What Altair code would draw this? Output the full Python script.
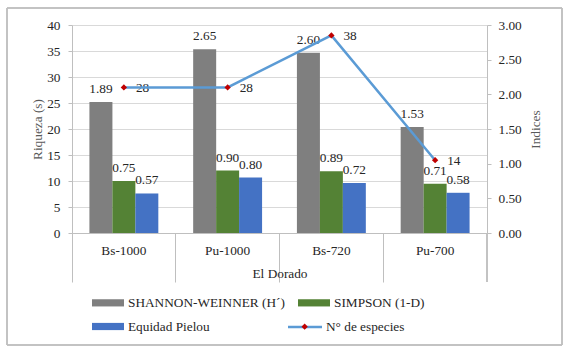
import altair as alt
import pandas as pd

categories = ["Bs-1000", "Pu-1000", "Bs-720", "Pu-700"]
series_names = ["SHANNON-WEINNER (H´)", "SIMPSON (1-D)", "Equidad Pielou"]
shannon = [1.89, 2.65, 2.60, 1.53]
simpson = [0.75, 0.90, 0.89, 0.71]
pielou = [0.57, 0.80, 0.72, 0.58]
line_name = "N° de especies"
marker_key = "N° de especies (marcador)"
especies = [28, 28, 38, 14]
left_ticks = [0, 5, 10, 15, 20, 25, 30, 35, 40]
right_ticks = [0.0, 0.5, 1.0, 1.5, 2.0, 2.5, 3.0]
bar_colors = ["#7F7F7F", "#548235", "#4472C4"]
line_color = "#5B9BD5"
point_color = "#C00000"

W, H = 415, 208
FONT = "Liberation Serif"
FS = 13.3
TXT = "#262626"
AX = "#BFBFBF"

rows = []
for s, vals in zip(series_names, [shannon, simpson, pielou]):
    for c, v in zip(categories, vals):
        rows.append({"cat": c, "serie": s, "val": v})
bars_df = pd.DataFrame(rows)
line_df = pd.DataFrame({
    "cat": categories, "n": especies,
    "serie_l": [line_name] * len(categories),
    "serie_p": [marker_key] * len(categories),
})

x_enc = alt.X(
    "cat:N", sort=categories, title="El Dorado",
    scale=alt.Scale(paddingInner=0, paddingOuter=0),
    axis=alt.Axis(
        bandPosition=0, tickSize=49, tickColor=AX,
        domainColor=AX, labelPadding=-39, labelAngle=0, labelFont=FONT,
        labelFontSize=FS, labelColor=TXT, titleFont=FONT, titleFontSize=FS,
        titleColor=TXT, titleFontWeight="normal", titleY=40,
        titleBaseline="middle", grid=False,
    ),
)

xoff = alt.XOffset("serie:N", sort=series_names,
                   scale=alt.Scale(paddingInner=0, paddingOuter=0.76))

y_right = alt.Y(
    "val:Q", scale=alt.Scale(domain=[0, 3], nice=False, zero=True),
    axis=alt.Axis(
        orient="right", values=right_ticks, format=".2f", grid=False,
        tickSize=4, tickColor=AX, domainColor=AX, labelPadding=7,
        labelFont=FONT, labelFontSize=FS, labelColor=TXT, title="Indices",
        titleFont=FONT, titleFontSize=FS, titleColor="#595959",
        titleFontWeight="normal", titleAngle=270, titleX=48, titleY=H / 2,
        titleBaseline="middle", titleAlign="center",
    ),
)

y_left = alt.Y(
    "n:Q", scale=alt.Scale(domain=[0, 40], nice=False, zero=True),
    axis=alt.Axis(
        orient="left", values=left_ticks, format="d", grid=True,
        gridColor="#D9D9D9", gridWidth=1, tickSize=4, tickColor=AX,
        domainColor=AX, labelPadding=8, labelFont=FONT, labelFontSize=FS,
        labelColor=TXT, title="Riqueza (s)", titleFont=FONT, titleFontSize=FS,
        titleColor="#595959", titleFontWeight="normal", titleAngle=270,
        titleX=-35, titleY=H / 2, titleBaseline="middle", titleAlign="center",
    ),
)

bars = alt.Chart(bars_df).mark_bar(size=23).encode(
    x=x_enc, xOffset=xoff, y=y_right,
    color=alt.Color(
        "serie:N", sort=series_names,
        scale=alt.Scale(domain=series_names, range=bar_colors),
        legend=alt.Legend(
            orient="none", legendX=28, legendY=269.5, columns=2, title=None,
            direction="horizontal",
            symbolType="M-2,-0.45H2V0.45H-2Z", symbolSize=256,
            symbolStrokeWidth=0, symbolOpacity=1, labelOffset=12,
            columnPadding=13, rowPadding=9, labelFont=FONT, labelFontSize=FS,
            labelColor=TXT, padding=0, labelLimit=400,
        ),
    ),
)

bar_text = alt.Chart(bars_df).mark_text(
    baseline="alphabetic", dy=-9, font=FONT, fontSize=FS, color=TXT
).encode(x=x_enc, xOffset=xoff, y=y_right, text=alt.Text("val:Q", format=".2f"))

line_text = alt.Chart(line_df).mark_text(
    align="left", baseline="middle", dx=12, dy=1, font=FONT, fontSize=FS, color=TXT
).encode(x=x_enc, y=y_left, text=alt.Text("n:Q", format="d"))

line = alt.Chart(line_df).mark_line(strokeWidth=2.5).encode(
    x=x_enc, y=y_left,
    stroke=alt.Stroke(
        "serie_l:N", scale=alt.Scale(domain=[line_name], range=[line_color]),
        legend=alt.Legend(
            orient="none", legendX=214.5, legendY=283.5, title=None,
            symbolType="stroke", symbolSize=1156, symbolStrokeWidth=2.5,
            labelOffset=2.5, labelFont=FONT, labelFontSize=FS, labelColor=TXT,
            padding=0,
        ),
    ),
)

points = alt.Chart(line_df).mark_point(
    shape="diamond", filled=True, size=40, opacity=1, strokeWidth=0
).encode(
    x=x_enc, y=y_left,
    fill=alt.Fill(
        "serie_p:N", scale=alt.Scale(domain=[marker_key], range=[point_color]),
        legend=alt.Legend(
            orient="none", legendX=226, legendY=295, title=None,
            symbolType="diamond", symbolSize=40, symbolStrokeWidth=0,
            symbolOpacity=1, labelExpr="''", labelFont=FONT, labelFontSize=FS,
            padding=0, zindex=2,
        ),
    ),
)

divider = alt.Chart(line_df).mark_rule(color=AX, strokeWidth=1).encode(
    x=alt.value(W), y=alt.value(H), y2=alt.value(H + 49)
)

frame = alt.Chart(line_df).mark_rect(
    fillOpacity=0, stroke="#BFBFBF", strokeWidth=1
).encode(
    x=alt.value(-65), x2=alt.value(490), y=alt.value(-17), y2=alt.value(320)
)

right_group = alt.layer(bars, bar_text)
left_group = alt.layer(line_text, line, points)

chart = alt.layer(right_group, left_group, divider, frame).resolve_scale(
    y="independent"
).properties(
    width=W, height=H,
    autosize=alt.AutoSizeParams(type="none"),
    padding={"left": 72, "top": 25, "right": 81, "bottom": 117},
    background="white",
).configure(font=FONT).configure_view(strokeOpacity=0)

chart.save("out.html", embed_options={"renderer": "svg", "actions": False})
